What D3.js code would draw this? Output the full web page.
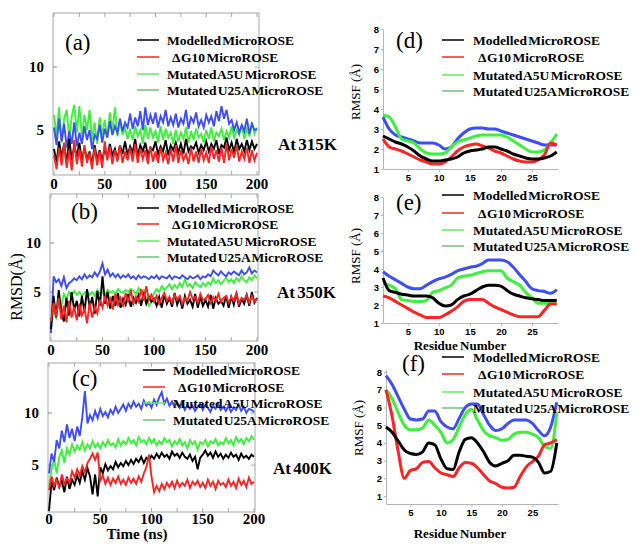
<!DOCTYPE html>
<html>
<head>
<meta charset="utf-8">
<script src="https://cdn.jsdelivr.net/npm/d3@7"></script>
<style>
body { margin: 0; background: #fff; }
svg { font-family: "Liberation Serif", "Times New Roman", serif; }
.rmsf-axis path, .rmsf-axis line { stroke: #b4b4c4; }
.rmsf-axis text { font-family: "Liberation Sans", Arial, sans-serif; font-weight: bold; font-size: 9.5px; fill: #000; }
</style>
</head>
<body>
<svg id="chart" width="638" height="547"></svg>
<script>
// ---------- data ----------
var seriesNames = ["Modelled MicroROSE", "\u0394 G10 MicroROSE", "Mutated A5U MicroROSE", "Mutated U25A MicroROSE"];
var temps = ["At 315K", "At 350K", "At 400K"];
var timeTicks = [0, 50, 100, 150, 200];
var rmsdTicks = [5, 10];
var rmsfYTicks = [1, 2, 3, 4, 5, 6, 7, 8];
var residueTicks = [5, 10, 15, 20, 25];

// sampling grid of the trajectories (ns) and residue numbers
var time = d3.range(0, 200.01, 2.5);
var residues = d3.range(1, 30);

// RMSD (A) at 315K
var rmsdA_model = [3.5,2.4,4.1,2.8,3.9,2.3,4.3,2.6,3.7,2.9, 4.0,2.5,3.6,2.7,3.3,2.2,3.8,2.6,3.4,2.5,
  3.6,2.8,3.9,3.0,3.5,2.7,3.8,3.1,4.1,3.0, 3.7,3.2,4.3,2.9,3.8,3.3,4.0,3.0,3.6,3.4,
  4.1,3.1,3.7,3.3,4.2,3.0,3.8,3.4,4.0,3.2, 3.9,3.1,4.3,3.3,3.7,3.5,4.0,3.2,3.8,3.4,
  4.1,3.3,3.9,3.5,4.2,3.1,3.8,3.6,4.4,3.4, 4.0,3.2,4.3,3.5,3.9,3.3,4.2,3.4,4.1,3.5, 3.9];
var rmsdA_dG10 = [3.0,1.9,3.6,2.2,4.0,2.0,3.4,1.8,4.2,2.3, 3.5,2.1,3.8,2.4,3.2,1.9,3.6,2.2,3.3,2.0,
  4.1,2.6,3.7,2.3,3.4,2.5,3.8,2.4,3.3,2.6, 3.6,2.5,3.9,2.4,3.5,2.7,3.4,2.3,3.7,2.5,
  3.3,2.4,3.6,2.6,3.2,2.3,3.5,2.5,3.8,2.4, 3.4,2.6,3.1,2.3,3.6,2.5,3.3,2.4,3.5,2.6,
  3.2,2.4,3.7,2.7,3.4,2.5,3.6,2.4,3.9,2.6, 3.5,2.8,3.8,2.5,3.3,2.7,3.6,2.4,3.4,2.6, 3.2];
var rmsdA_A5U = [6.2,4.5,6.8,4.0,5.9,6.6,4.3,6.1,7.0,4.8, 6.9,4.5,6.2,5.0,6.6,4.2,5.6,3.9,6.0,4.6,
  5.8,4.4,6.4,4.9,6.8,4.5,5.7,4.6,5.2,4.3, 5.1,4.2,5.3,4.5,5.0,3.9,5.4,4.3,5.2,4.4,
  4.9,4.0,5.3,4.2,5.1,4.4,4.8,3.9,5.0,4.1, 4.8,4.3,5.2,4.0,4.9,4.2,5.1,4.4,4.7,4.0,
  5.0,4.3,5.2,4.1,4.8,4.5,5.1,4.2,4.9,4.4, 5.3,4.4,5.0,4.6,5.4,4.3,5.1,4.5,5.6,4.7, 5.2];
var rmsdA_U25A = [5.2,3.8,5.9,4.1,5.5,3.6,4.9,3.9,5.6,3.7, 4.8,3.9,5.3,4.2,5.0,3.5,4.6,4.3,5.4,4.0,
  5.1,4.4,5.7,4.6,5.3,4.8,5.9,4.9,5.6,5.2, 6.3,5.1,6.0,5.3,6.5,5.0,6.8,5.4,6.2,5.5,
  6.4,5.2,6.1,5.6,6.6,5.3,6.0,5.4,6.3,5.2, 5.9,5.5,6.6,5.1,6.0,5.6,6.4,5.3,5.8,5.2,
  6.2,5.6,6.1,5.3,6.5,5.7,6.9,5.9,6.6,5.5, 5.8,5.0,5.6,4.8,5.4,4.9,5.9,4.7,5.5,5.0, 5.1];

// RMSD (A) at 350K
var rmsdB_model = [1.2,4.6,2.4,5.2,3.0,2.0,4.4,2.6,5.0,3.2, 4.1,2.5,4.6,3.0,5.3,3.4,4.5,2.8,5.1,3.6,
  6.6,3.8,5.0,3.3,4.6,3.6,4.9,3.4,4.3,3.7, 4.8,3.5,4.4,3.9,4.7,3.6,5.0,3.8,4.5,4.0,
  4.3,3.6,4.5,3.4,4.7,3.8,4.4,3.5,4.9,3.7, 4.4,3.3,4.6,3.8,4.2,3.5,4.8,3.4,4.5,3.6,
  4.2,3.5,4.7,3.3,4.4,3.8,4.1,3.6,4.6,3.4, 4.5,3.7,4.9,3.5,4.3,3.8,4.7,3.6,5.0,3.9, 4.4];
var rmsdB_dG10 = [2.0,3.9,2.5,4.4,2.2,3.6,1.9,4.1,2.4,3.5, 2.1,3.8,2.6,3.3,1.8,3.9,2.4,3.5,2.8,4.2,
  3.4,4.6,3.6,4.3,3.2,4.8,3.7,4.4,3.5,4.9, 3.9,5.2,3.8,4.5,4.0,5.3,4.1,5.6,4.2,4.7,
  4.0,4.6,3.8,4.4,4.9,4.1,4.5,3.9,4.7,4.2, 4.6,3.8,4.4,4.1,5.0,4.3,4.5,3.9,4.8,4.2,
  4.3,4.7,3.9,4.5,4.1,4.8,4.0,4.4,4.6,3.9, 4.5,4.1,4.9,3.8,4.4,4.2,4.7,3.9,4.6,4.0, 4.3];
var rmsdB_A5U = [1.8,3.0,2.4,4.2,3.6,4.8,4.3,5.0,4.6,5.1, 4.7,5.0,4.6,4.9,5.1,4.7,5.0,4.6,5.2,4.8,
  5.0,4.7,5.2,4.9,5.1,4.8,5.3,5.0,4.9,5.2, 5.0,5.3,5.1,4.8,5.4,5.0,5.2,4.3,3.6,4.0,
  4.9,5.3,5.0,5.6,5.2,5.5,5.8,5.3,5.7,5.4, 5.9,5.5,6.3,5.6,5.8,5.4,6.0,5.7,5.5,5.9,
  5.6,6.0,5.7,6.4,5.9,6.2,5.8,6.1,6.5,6.0, 6.3,5.9,6.4,6.1,6.6,6.2,6.0,6.5,6.2,6.7, 6.4];
var rmsdB_U25A = [0.8,6.6,6.0,6.3,5.6,6.5,5.4,5.9,6.1,6.4, 6.2,6.6,6.3,6.8,6.4,6.7,6.5,7.0,6.6,7.1,
  7.9,6.8,7.3,6.6,6.9,6.5,6.8,6.4,6.7,6.5, 6.8,6.4,6.6,6.3,6.7,6.4,6.6,6.5,6.3,6.6,
  6.4,6.7,6.3,6.6,6.5,6.4,6.7,6.3,6.6,6.5, 6.4,6.7,6.5,6.3,6.6,6.4,6.5,6.7,6.3,6.6,
  6.5,6.8,6.6,7.2,6.9,6.7,7.1,6.8,6.6,7.0, 6.8,7.1,6.9,6.7,7.2,6.8,7.0,7.5,6.9,7.2, 7.0];

// RMSD (A) at 400K
var rmsdC_model = [0.6,3.4,2.6,3.8,2.9,3.5,2.4,3.9,2.7,3.6, 3.1,4.0,3.3,4.4,3.6,4.7,3.9,2.2,4.1,2.0,
  4.8,4.2,5.1,4.5,4.9,4.6,5.3,4.8,5.2,4.9, 5.4,5.0,5.5,5.1,5.6,5.3,5.8,5.2,5.7,5.5,
  5.9,5.6,6.1,5.7,6.2,5.8,6.0,5.6,6.3,5.9, 6.1,5.7,6.2,5.8,5.6,6.0,5.4,5.8,4.6,5.7,
  6.0,6.4,5.9,6.2,5.7,6.3,5.8,6.1,5.6,6.0, 5.7,6.2,5.8,6.0,5.5,6.1,5.7,5.9,5.6,6.0, 5.8];
var rmsdC_dG10 = [2.6,3.9,3.0,3.6,2.8,4.1,3.2,3.7,3.3,4.4, 3.8,4.6,4.0,4.9,4.3,5.2,5.6,6.1,5.5,6.2,
  3.5,4.0,3.2,3.8,3.1,3.7,3.3,3.9,3.2,3.6, 3.1,3.8,3.3,3.7,3.2,3.9,3.4,4.2,4.8,6.0,
  3.9,2.4,3.0,2.5,3.2,2.7,3.3,2.9,3.4,2.8, 3.5,2.9,3.3,3.0,3.6,2.8,3.4,3.1,3.5,2.9,
  3.3,2.8,3.6,3.0,3.4,2.7,3.5,3.1,3.3,2.9, 3.6,3.0,3.4,2.8,3.7,3.1,3.5,2.9,3.8,3.2, 3.4];
var rmsdC_A5U = [3.0,4.6,5.5,4.2,5.8,6.4,5.2,6.6,6.0,7.0, 6.3,6.9,6.5,7.2,6.4,7.0,6.6,7.3,6.7,7.1,
  6.6,7.2,6.8,7.4,6.9,7.1,6.7,7.5,6.9,7.3, 7.0,7.6,7.1,7.4,6.9,7.7,7.2,7.4,7.0,7.6,
  7.1,7.5,6.9,7.3,7.0,7.6,7.2,7.4,6.8,7.3, 7.0,7.5,6.9,7.2,6.6,7.4,7.0,7.3,6.5,7.2,
  7.0,7.4,6.8,7.3,7.1,7.5,6.9,7.2,7.0,7.6, 7.1,7.4,6.9,7.7,7.2,7.5,7.0,7.6,7.3,7.8, 7.4];
var rmsdC_U25A = [4.2,6.1,5.3,7.4,6.6,8.3,7.2,8.9,7.6,8.5, 7.3,8.7,7.8,9.6,12.1,9.0,9.8,9.3,10.2,9.5,
  10.4,9.7,10.1,9.6,10.3,9.9,10.6,10.0,10.4,10.8, 10.2,10.9,10.5,11.1,10.6,10.9,10.4,11.2,10.7,11.0,
  10.5,11.3,10.8,11.5,12.0,10.9,11.4,10.7,11.1,10.6, 11.0,10.5,10.9,10.3,10.8,10.4,10.7,10.2,10.6,10.9,
  10.3,10.8,10.5,10.1,10.7,10.4,10.9,10.3,10.6,10.2, 10.7,10.1,10.5,10.3,10.8,10.2,10.6,10.0,10.4,10.3, 10.1];

// RMSF (A) per residue, 315K
var rmsfD_model = [2.65,2.5,2.35,2.25,2.1,1.9,1.65,1.5,1.4,1.4,1.45,1.5,1.6,1.8,1.9,1.95,2.0,2.1,2.1,2.0,1.9,1.75,1.65,1.55,1.5,1.5,1.55,1.65,1.85];
var rmsfD_dG10 = [2.5,2.1,2.0,1.9,1.75,1.6,1.45,1.35,1.25,1.25,1.35,1.6,1.9,2.1,2.2,2.25,2.15,2.05,1.9,1.8,1.65,1.5,1.4,1.35,1.35,1.45,1.7,2.3,2.2];
var rmsfD_A5U = [3.7,3.6,3.1,2.5,2.4,2.3,2.0,1.8,1.75,1.75,1.8,2.1,2.35,2.45,2.55,2.65,2.7,2.7,2.7,2.7,2.6,2.4,2.2,2.0,1.85,1.85,1.95,2.3,2.75];
var rmsfD_U25A = [3.6,3.0,2.7,2.6,2.5,2.4,2.3,2.3,2.3,2.2,2.0,2.1,2.5,2.8,3.0,3.05,3.05,3.0,3.0,2.9,2.8,2.7,2.6,2.5,2.4,2.3,2.2,2.2,2.2];

// RMSF (A) per residue, 350K
var rmsfE_model = [3.5,2.8,2.7,2.6,2.55,2.5,2.5,2.5,2.4,2.1,1.95,2.0,2.3,2.5,2.6,2.8,3.0,3.1,3.1,3.05,2.8,2.6,2.5,2.4,2.35,2.3,2.25,2.25,2.25];
var rmsfE_dG10 = [2.5,2.4,2.2,2.0,1.8,1.6,1.45,1.3,1.3,1.3,1.45,1.65,1.9,2.2,2.3,2.3,2.3,2.1,1.9,1.75,1.6,1.45,1.35,1.35,1.35,1.35,1.7,2.05,2.05];
var rmsfE_A5U = [3.2,3.1,2.9,2.3,2.25,2.2,2.2,2.25,2.7,2.8,2.95,3.1,3.5,3.6,3.65,3.75,3.85,3.9,3.9,3.9,3.5,3.3,3.1,2.7,2.4,2.1,2.1,2.1,2.1];
var rmsfE_U25A = [3.85,3.6,3.4,3.2,3.0,2.9,2.9,3.1,3.3,3.45,3.55,3.7,3.9,4.0,4.1,4.15,4.3,4.5,4.5,4.5,4.4,4.1,3.7,3.3,2.9,2.8,2.75,2.65,2.85];

// RMSF (A) per residue, 400K
var rmsfF_model = [4.9,4.6,4.1,3.6,3.4,3.35,3.5,4.0,3.9,3.1,2.55,2.5,3.5,4.2,4.3,4.0,3.5,2.9,2.7,2.85,3.0,3.3,3.3,3.25,3.2,2.9,2.3,2.4,4.0];
var rmsfF_dG10 = [7.0,5.5,3.5,2.0,2.45,2.55,2.9,2.95,2.6,2.3,2.2,2.1,2.6,2.9,2.85,2.6,2.2,1.85,1.7,1.5,1.45,1.5,2.1,2.65,2.95,3.25,3.9,4.0,4.2];
var rmsfF_A5U = [7.0,6.5,5.7,5.0,4.75,4.75,4.85,5.3,5.0,4.6,4.0,4.2,4.9,5.6,5.9,5.3,4.7,4.4,4.3,4.15,4.2,4.5,4.6,4.6,4.5,4.3,3.8,3.7,5.7];
var rmsfF_U25A = [7.8,7.3,6.6,5.9,5.35,5.3,5.35,5.8,5.8,5.2,4.9,4.8,5.4,6.0,6.2,6.2,5.6,5.0,4.7,4.8,5.1,5.3,5.3,5.3,5.1,4.7,4.4,4.9,6.3];

// ---------- styling / layout ----------
var colors = ["#000000", "#ff2424", "#3cf03c", "#3d4dff"];
var legendColors = ["#000000", "#ff2424", "#5cf05c", "#2f9e3a"];
var drawOrder = [2, 3, 0, 1];

var svg = d3.select("#chart");

var rmsdPanels = [
  { label: "(a)", lx: 65, ly: 50, left: 53, right: 259, top: 13, bottom: 175, x: [54, 257],
    ydom: [1.43, 14.29], tickY: 189, temp: temps[0], tx: 278, ty: 150,
    legX: 137, legY: [40, 57, 74, 90],
    data: [rmsdA_model, rmsdA_dG10, rmsdA_A5U, rmsdA_U25A] },
  { label: "(b)", lx: 71, ly: 219, left: 50, right: 258, top: 194, bottom: 341, x: [51, 257],
    ydom: [0, 15], tickY: 355, temp: temps[1], tx: 277, ty: 298,
    legX: 137, legY: [208, 224, 241, 257],
    data: [rmsdB_model, rmsdB_dG10, rmsdB_A5U, rmsdB_U25A] },
  { label: "(c)", lx: 72, ly: 386, left: 48, right: 255, top: 363, bottom: 512, x: [49, 254],
    ydom: [0.5, 14.8], tickY: 524, temp: temps[2], tx: 273, ty: 474,
    legX: 143, legY: [370, 387, 403, 420],
    data: [rmsdC_model, rmsdC_dG10, rmsdC_A5U, rmsdC_U25A] }
];

var rmsfPanels = [
  { label: "(d)", lx: 396, ly: 48, x: [383, 558], y: [169, 29], ydom: [1, 8], yl: 92, xlabel: null,
    legY: [40, 57, 75, 91], data: [rmsfD_model, rmsfD_dG10, rmsfD_A5U, rmsfD_U25A] },
  { label: "(e)", lx: 396, ly: 210, x: [383, 558], y: [323, 197], ydom: [1, 8], yl: 256, xlabel: 350,
    legY: [195, 213, 230, 246], data: [rmsfE_model, rmsfE_dG10, rmsfE_A5U, rmsfE_U25A] },
  { label: "(f)", lx: 402, ly: 371, x: [386, 558], y: [504, 369.5], ydom: [0.55, 8.15], yl: 428, xlabel: 538,
    legY: [357, 374, 392, 408], data: [rmsfF_model, rmsfF_dG10, rmsfF_A5U, rmsfF_U25A] }
];

function legend(x0, ys, textX) {
  var g = svg.append("g");
  seriesNames.forEach(function(name, i) {
    g.append("line")
      .attr("x1", x0).attr("x2", x0 + 22)
      .attr("y1", ys[i]).attr("y2", ys[i])
      .attr("stroke", legendColors[i])
      .attr("stroke-width", i == 3 ? 1 : 1.5);
    g.append("text")
      .attr("x", textX + (i == 1 ? 5 : 0))
      .attr("y", ys[i] + 5)
      .attr("font-size", "13.5px")
      .attr("font-weight", "bold")
      .attr("word-spacing", "-2px")
      .text(name);
  });
}

// ---------- RMSD panels ----------
rmsdPanels.forEach(function(p, pi) {
  var sx = d3.scaleLinear().domain([0, 200]).range(p.x);
  var sy = d3.scaleLinear().domain(p.ydom).range([p.bottom, p.top]);
  var g = svg.append("g");

  g.append("clipPath").attr("id", "clip" + pi)
    .append("rect")
    .attr("x", p.left).attr("y", p.top)
    .attr("width", p.right - p.left).attr("height", p.bottom - p.top);

  // frame with inward ticks
  g.append("rect")
    .attr("x", p.left).attr("y", p.top)
    .attr("width", p.right - p.left).attr("height", p.bottom - p.top)
    .attr("fill", "none").attr("stroke", "#a8a8a8").attr("stroke-width", 1);

  d3.range(0, 201, 25).forEach(function(t) {
    g.append("line").attr("x1", sx(t)).attr("x2", sx(t))
      .attr("y1", p.bottom).attr("y2", p.bottom - 4).attr("stroke", "#a8a8a8");
    g.append("line").attr("x1", sx(t)).attr("x2", sx(t))
      .attr("y1", p.top).attr("y2", p.top + 4).attr("stroke", "#a8a8a8");
  });
  rmsdTicks.forEach(function(v) {
    g.append("line").attr("x1", p.left).attr("x2", p.left + 4)
      .attr("y1", sy(v)).attr("y2", sy(v)).attr("stroke", "#888");
    g.append("line").attr("x1", p.right).attr("x2", p.right - 4)
      .attr("y1", sy(v)).attr("y2", sy(v)).attr("stroke", "#a8a8a8");
  });

  // tick labels
  g.selectAll(".xt").data(timeTicks).enter().append("text")
    .attr("x", function(d) { return sx(d); })
    .attr("y", p.tickY)
    .attr("text-anchor", "middle")
    .attr("font-size", "15px").attr("font-weight", "bold")
    .text(function(d) { return d; });
  g.selectAll(".yt").data(rmsdTicks).enter().append("text")
    .attr("x", p.left - 9)
    .attr("y", function(d) { return sy(d) + 5; })
    .attr("text-anchor", "end")
    .attr("font-size", "15px").attr("font-weight", "bold")
    .text(function(d) { return d; });

  // trajectories (noisy, drawn as a jagged band)
  var line = d3.line()
    .x(function(d, i) { return sx(time[i]); })
    .y(function(d) { return sy(d); });
  var lines = g.append("g").attr("clip-path", "url(#clip" + pi + ")");
  drawOrder.forEach(function(k) {
    lines.append("path")
      .datum(p.data[k])
      .attr("d", line)
      .attr("fill", "none")
      .attr("stroke", colors[k])
      .attr("stroke-width", 1.9)
      .attr("stroke-linejoin", "miter");
  });

  g.append("text").attr("x", p.lx).attr("y", p.ly)
    .attr("font-size", "23px").text(p.label);

  g.append("text").attr("x", p.tx).attr("y", p.ty)
    .attr("font-size", "17px").attr("font-weight", "bold")
    .attr("word-spacing", "-2px")
    .text(p.temp);

  legend(p.legX, p.legY, p.legX + 30);
});

svg.append("text")
  .attr("transform", "translate(22,287) rotate(-90)")
  .attr("text-anchor", "middle")
  .attr("font-size", "16px")
  .text("RMSD(\u00c5)");

svg.append("text")
  .attr("x", 137).attr("y", 539)
  .attr("text-anchor", "middle")
  .attr("font-size", "15px").attr("font-weight", "bold")
  .text("Time (ns)");

// ---------- RMSF panels ----------
rmsfPanels.forEach(function(p) {
  var sx = d3.scaleLinear().domain([1, 29.2]).range(p.x);
  var sy = d3.scaleLinear().domain(p.ydom).range(p.y);
  var g = svg.append("g");

  g.append("g").attr("class", "rmsf-axis")
    .attr("transform", "translate(0," + p.y[0] + ")")
    .call(d3.axisBottom(sx).tickValues(residueTicks).tickFormat(d3.format("d"))
      .tickSize(3).tickPadding(2).tickSizeOuter(0));
  g.append("g").attr("class", "rmsf-axis")
    .attr("transform", "translate(" + p.x[0] + ",0)")
    .call(d3.axisLeft(sy).tickValues(rmsfYTicks).tickFormat(d3.format("d"))
      .tickSize(2).tickPadding(2).tickSizeOuter(0));

  var line = d3.line()
    .x(function(d, i) { return sx(residues[i]); })
    .y(function(d) { return sy(d); })
    .curve(d3.curveMonotoneX);
  [3, 2, 1, 0].forEach(function(k) {
    g.append("path")
      .datum(p.data[k])
      .attr("d", line)
      .attr("fill", "none")
      .attr("stroke", colors[k])
      .attr("stroke-width", 3)
      .attr("stroke-linejoin", "round");
  });

  g.append("text")
    .attr("transform", "translate(" + (p.x[0] - 23) + "," + p.yl + ") rotate(-90)")
    .attr("text-anchor", "middle")
    .attr("font-size", "13px")
    .text("RMSF (\u00c5)");

  if (p.xlabel) {
    g.append("text")
      .attr("x", 460).attr("y", p.xlabel)
      .attr("text-anchor", "middle")
      .attr("font-size", "13px").attr("font-weight", "bold")
      .attr("word-spacing", "-1px")
      .text("Residue Number");
  }

  g.append("text").attr("x", p.lx).attr("y", p.ly)
    .attr("font-size", "23px").text(p.label);

  legend(442, p.legY, 473);
});
</script>
</body>
</html>
